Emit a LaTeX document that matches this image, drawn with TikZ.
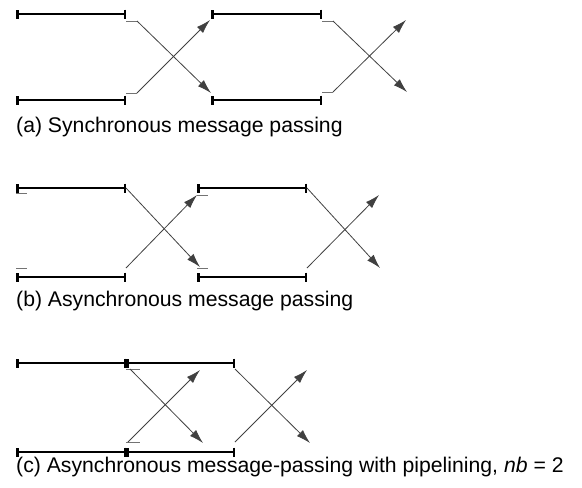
\documentclass[tikz,border=0pt]{standalone}
\usepackage{fontspec}
\setmainfont{Liberation Sans}
\usetikzlibrary{arrows.meta}
\tikzset{
	proc/.style={line width=2.5pt, {Bar[width=9pt]}-{Bar[width=9pt]}},
	msg/.style={line width=0.8pt, color=black!75, -{Latex[length=14pt,width=8.5pt]}},
	stub/.style={line width=0.8pt, color=black!55},
	caption/.style={anchor=base west, inner sep=0pt, font=\fontsize{21.2}{25}\selectfont}
}

\begin{document}
\begin{tikzpicture}[x=1pt, y=-1pt]
			%%%%% START %%%%%
			\useasboundingbox (0, 0) rectangle (582, 488);
			
			% (a) synchronous
			\draw[proc] (16, 14) -- (126, 14);
			\draw[proc] (16, 100) -- (126, 100);
			\draw[stub] (126, 21) -- (137, 21);
			\draw[stub] (126, 93) -- (137, 93);
			\draw[msg] (137, 21) -- (211, 93);
			\draw[msg] (137, 93) -- (210, 20);
			
			\draw[proc] (211, 14) -- (322, 14);
			\draw[proc] (211, 100) -- (322, 100);
			\draw[stub] (322, 21) -- (333, 21);
			\draw[stub] (322, 92) -- (333, 92);
			\draw[msg] (333, 21) -- (407, 92);
			\draw[msg] (333, 92) -- (406, 20);
			
			\node[caption] (capa) at (16, 132) {(a) Synchronous message passing};
			
			% (b) asynchronous
			\draw[proc] (16, 188) -- (126, 188);
			\draw[proc] (16, 277) -- (126, 277);
			\draw[stub] (16, 193) -- (27, 193);
			\draw[stub] (16, 268) -- (27, 268);
			\draw[msg] (126, 188) -- (200, 267);
			\draw[msg] (126, 268) -- (197, 195);
			
			\draw[stub] (197, 195) -- (208, 195);
			\draw[stub] (197, 268) -- (208, 268);
			\draw[proc] (197, 188) -- (307, 188);
			\draw[proc] (197, 277) -- (307, 277);
			\draw[msg] (307, 188) -- (380, 268);
			\draw[msg] (307, 268) -- (379, 195);
			
			\node[caption] (capb) at (16, 306) {(b) Asynchronous message passing};
			
			% (c) pipelining
			\draw[proc] (16, 363) -- (126, 363);
			\draw[proc] (126, 363) -- (235, 363);
			\draw[proc] (16, 452) -- (126, 452);
			\draw[proc] (126, 452) -- (235, 452);
			\draw[stub] (126, 369) -- (140, 369);
			\draw[stub] (126, 442) -- (140, 442);
			\draw[msg] (130, 369) -- (203, 443);
			\draw[msg] (128, 442) -- (200, 370);
			
			\draw[msg] (235, 369) -- (310, 443);
			\draw[msg] (235, 442) -- (307, 370);
			
			\node[caption] (capc) at (16, 472) {(c) Asynchronous message-passing with pipelining, \textit{nb} = 2};
			
			%%%%% END %%%%%
\end{tikzpicture}
\end{document}
